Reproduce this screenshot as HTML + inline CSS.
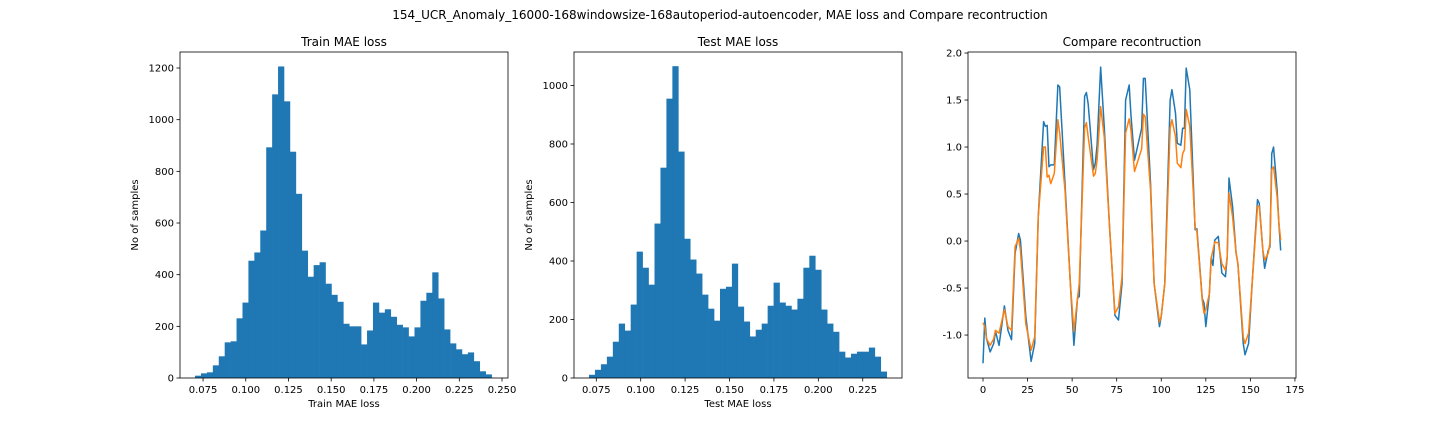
<!DOCTYPE html>
<html><head><meta charset="utf-8"><style>
body{margin:0;background:#fff}
svg{display:block;font-family:"DejaVu Sans","Liberation Sans",sans-serif}
</style></head><body>
<svg id="fig" width="1440" height="432" viewBox="0 0 1440 432">
<text x="720" y="19" text-anchor="middle" font-size="12">154_UCR_Anomaly_16000-168windowsize-168autoperiod-autoencoder, MAE loss and Compare recontruction</text>
</svg>
<script>
const trainCounts=[9,18,22,49,84,138,142,231,292,454,486,571,893,1098,1206,1071,876,713,493,392,437,448,365,322,295,210,200,200,130,184,292,253,266,237,206,196,161,196,299,330,409,308,188,134,111,92,99,65,26,14];
const testCounts=[11,28,47,73,124,186,162,251,432,377,319,528,719,955,1066,774,476,405,357,285,237,196,305,312,391,244,193,142,165,186,247,326,258,247,234,271,377,418,370,234,186,158,90,70,83,90,90,104,73,22];
const trainTicksX=[0.075,0.100,0.125,0.150,0.175,0.200,0.225,0.250];
const trainTicksY=[0,200,400,600,800,1000,1200];
const testTicksX=[0.075,0.100,0.125,0.150,0.175,0.200,0.225];
const testTicksY=[0,200,400,600,800,1000];
const reconIdx=[0,1,2,4,6,7,9,12,14,16,18,20,21,24,27,29,31,34,35,36,37,38,40,42,43,46,49,51,53,54,57,58,59,62,63,64,66,68,71,74,76,78,80,82,83,85,89,90,91,94,96,99,100,102,105,106,108,109,111,112,113,114,116,119,120,123,124,125,127,128,129,130,132,134,136,137,138,140,142,143,146,147,149,151,154,155,157,158,160,161,162,163,165,166,167];
const actual=[-1.30,-0.82,-1.04,-1.18,-1.09,-0.96,-1.11,-0.69,-0.95,-1.05,-0.13,0.08,0.01,-0.80,-1.28,-1.09,0.26,1.27,1.22,1.23,0.79,0.81,0.81,1.66,1.64,0.61,-0.45,-1.11,-0.61,-0.59,1.54,1.58,1.46,0.76,0.83,1.02,1.85,1.22,0.15,-0.79,-0.84,-0.45,1.50,1.66,1.34,0.86,1.20,1.73,1.73,0.61,-0.45,-0.91,-0.80,-0.45,1.50,1.61,1.36,1.04,1.02,1.20,1.20,1.84,1.61,0.12,0.13,-0.61,-0.66,-0.91,-0.56,-0.18,-0.26,0.01,0.05,-0.34,-0.38,-0.17,0.67,0.37,-0.13,-0.24,-1.09,-1.21,-1.09,-0.45,0.44,0.40,-0.10,-0.29,-0.10,-0.06,0.93,1.00,0.54,0.19,-0.10];
const reconstructed=[-0.87,-0.91,-1.04,-1.11,-1.04,-0.95,-0.98,-0.73,-0.91,-0.95,-0.06,0.03,-0.10,-0.88,-1.16,-1.02,0.26,1.00,1.00,0.68,0.70,0.61,0.72,1.29,1.15,0.54,-0.45,-0.96,-0.61,-0.45,1.20,1.26,1.11,0.69,0.72,0.86,1.43,1.11,0.15,-0.77,-0.70,-0.38,1.15,1.30,1.18,0.74,0.98,1.35,1.32,0.54,-0.45,-0.86,-0.80,-0.45,1.20,1.29,1.11,0.83,0.78,0.93,0.97,1.40,1.22,0.15,0.10,-0.63,-0.77,-0.73,-0.56,-0.18,-0.10,-0.01,-0.02,-0.24,-0.31,-0.17,0.51,0.26,-0.13,-0.24,-1.02,-1.09,-0.98,-0.45,0.37,0.37,-0.10,-0.20,-0.13,-0.02,0.76,0.79,0.47,0.19,0.01];
const reconTicksX=[0,25,50,75,100,125,150,175];
const reconTicksY=[-1.0,-0.5,0.0,0.5,1.0,1.5,2.0];

const NS='http://www.w3.org/2000/svg';
const fig=document.getElementById('fig');
function mk(tag,attrs,parent,text){const e=document.createElementNS(NS,tag);for(const k in attrs)e.setAttribute(k,attrs[k]);if(text!==undefined)e.textContent=text;(parent||fig).appendChild(e);return e;}
const T=52,B=378;
function axes(name,L,R,xd,yd,xt,yt,xfmt,yfmt,title,xlabel,ylabel){
  const g=mk('g',{});
  
  
  const sx=v=>L+(v-xd[0])/(xd[1]-xd[0])*(R-L);
  const sy=v=>B-(v-yd[0])/(yd[1]-yd[0])*(B-T);
  const t=mk('text',{x:(L+R)/2,y:T-6,'text-anchor':'middle','font-size':12},g,title);
  
  
  xt.forEach(v=>{const x=sx(v);mk('line',{x1:x,x2:x,y1:B,y2:B+3.5,stroke:'#000','stroke-width':0.8},g);
    const l=mk('text',{x:x,y:B+15,'text-anchor':'middle','font-size':10},g,xfmt(v));
    
    });
  yt.forEach(v=>{const y=sy(v);mk('line',{x1:L-3.5,x2:L,y1:y,y2:y,stroke:'#000','stroke-width':0.8},g);
    const l=mk('text',{x:L-6,y:y+3.5,'text-anchor':'end','font-size':10},g,yfmt(v));
    
    });
  if(xlabel){const l=mk('text',{x:(L+R)/2,y:B+29,'text-anchor':'middle','font-size':10},g,xlabel);
    
    }
  if(ylabel){const l=mk('text',{x:0,y:0,'text-anchor':'middle','font-size':10,transform:`translate(${L-42},${(T+B)/2}) rotate(-90)`},g,ylabel);
    
    }
  return {g,sx,sy,frame:()=>{const f=mk('rect',{x:L,y:T,width:R-L,height:B-T,fill:'none',stroke:'#000','stroke-width':0.8},g);
    
    }};
}
function hist(ax,counts,lo,hi,name){
  const w=(hi-lo)/counts.length;
  counts.forEach((c,i)=>{const x0=ax.sx(lo+i*w),x1=ax.sx(lo+(i+1)*w),y=ax.sy(c);
    const r=mk('rect',{x:x0,y:y,width:x1-x0+0.3,height:ax.sy(0)-y,fill:'#1f77b4'},ax.g);
    
    });
}
const f3=v=>v.toFixed(3);
const a1=axes('train-loss-chart',180,508,[0.0615,0.2535],[0,1262],trainTicksX,trainTicksY,f3,v=>String(v),'Train MAE loss','Train MAE loss','No of samples');
hist(a1,trainCounts,0.0703,0.2439,'train');a1.frame();
const a2=axes('test-loss-chart',574,902,[0.06245,0.2471],[0,1114.5],testTicksX,testTicksY,f3,v=>String(v),'Test MAE loss','Test MAE loss','No of samples');
hist(a2,testCounts,0.0709,0.2385,'test');a2.frame();
const a3=axes('reconstruction-chart',968,1296,[-8.42,175.6],[-1.457,2.011],reconTicksX,reconTicksY,v=>String(v),v=>v.toFixed(1),'Compare recontruction','','');
function line(ax,ys,color,name){
  const d=reconIdx.map((x,i)=>(i?'L':'M')+ax.sx(x).toFixed(2)+','+ax.sy(ys[i]).toFixed(2)).join('');
  const p=mk('path',{d:d,fill:'none',stroke:color,'stroke-width':1.5,'stroke-linejoin':'round'},ax.g);
  
  
}
line(a3,actual,'#1f77b4','actual-series-line');
line(a3,reconstructed,'#ff7f0e','reconstructed-series-line');
a3.frame();
</script>
</body></html>
